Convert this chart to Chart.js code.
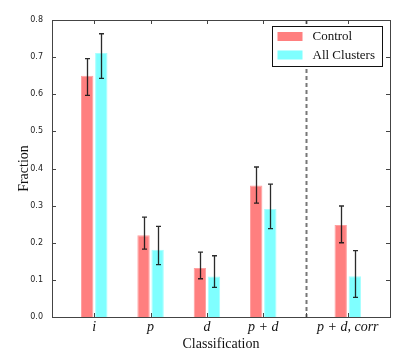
<!DOCTYPE html>
<html><head><meta charset="utf-8">
<script src="https://cdn.jsdelivr.net/npm/chart.js@4/dist/chart.umd.min.js"></script>
<style>html,body{margin:0;padding:0;background:#fff}#wrap{width:415px;height:353px}</style>
</head><body><div id="wrap"><canvas id="c" width="415" height="353"></canvas></div>
<script>
// ---- data ----
const categories = ['i', 'p', 'd', 'p + d', 'p + d, corr'];
const categorySlots = [0, 1, 2, 3, 4.5];
const dividerSlot = 3.75;
const seriesNames = ['Control', 'All Clusters'];
const control      = [0.650, 0.220, 0.132, 0.354, 0.248];
const controlLow   = [0.597, 0.183, 0.103, 0.307, 0.200];
const controlHigh  = [0.696, 0.269, 0.175, 0.404, 0.299];
const clusters     = [0.711, 0.181, 0.109, 0.291, 0.110];
const clustersLow  = [0.643, 0.141, 0.080, 0.238, 0.053];
const clustersHigh = [0.763, 0.244, 0.165, 0.358, 0.179];
const yTickValues  = [0, 0.1, 0.2, 0.3, 0.4, 0.5, 0.6, 0.7, 0.8];

const SERIF = '"Liberation Serif", "DejaVu Serif", serif';

const errorBars = {
  id: 'errorBars',
  afterDatasetsDraw(chart) {
    const {ctx} = chart; const ys = chart.scales.y;
    chart.data.datasets.forEach((ds, di) => {
      chart.getDatasetMeta(di).data.forEach((bar, i) => {
        const x = Math.round(bar.x) + 0.5;
        const yl = ys.getPixelForValue(ds.errLow[i]);
        const yh = ys.getPixelForValue(ds.errHigh[i]);
        ctx.save();
        ctx.strokeStyle = 'rgba(20,20,20,0.9)'; ctx.lineWidth = 1.3;
        ctx.beginPath();
        ctx.moveTo(x, yl); ctx.lineTo(x, yh);
        ctx.moveTo(x - 2.5, yl); ctx.lineTo(x + 2.5, yl);
        ctx.moveTo(x - 2.5, yh); ctx.lineTo(x + 2.5, yh);
        ctx.stroke(); ctx.restore();
      });
    });
  }
};

const frame = {
  id: 'frame',
  afterDraw(chart) {
    const {ctx, chartArea: a} = chart; const xs = chart.scales.x, ys = chart.scales.y;
    ctx.save();
    // divider
    const dx = Math.round(xs.getPixelForValue(dividerSlot)) + 0.5;
    ctx.strokeStyle = '#777'; ctx.lineWidth = 2; ctx.setLineDash([4, 3]);
    ctx.beginPath(); ctx.moveTo(dx, a.top); ctx.lineTo(dx, a.bottom); ctx.stroke();
    ctx.setLineDash([]);
    // frame
    ctx.strokeStyle = '#444'; ctx.lineWidth = 1;
    ctx.strokeRect(Math.round(a.left) + 0.5, Math.round(a.top) + 0.5, Math.round(a.right - a.left), Math.round(a.bottom - a.top));
    // inward ticks
    ctx.beginPath();
    yTickValues.forEach(v => {
      const y = Math.round(ys.getPixelForValue(v)) + 0.5;
      ctx.moveTo(a.left, y); ctx.lineTo(a.left + 4, y);
      ctx.moveTo(a.right, y); ctx.lineTo(a.right - 4, y);
    });
    categorySlots.concat([dividerSlot]).forEach(v => {
      const x = Math.round(xs.getPixelForValue(v)) + 0.5;
      ctx.moveTo(x, a.top); ctx.lineTo(x, a.top + 4);
      ctx.moveTo(x, a.bottom); ctx.lineTo(x, a.bottom - 4);
    });
    ctx.stroke();
    // legend
    const bx = Math.round(a.right) - 117.5, by = Math.round(a.top) + 6.5, bw = 110, bh = 40;
    ctx.fillStyle = '#fff'; ctx.fillRect(bx, by, bw, bh);
    ctx.strokeStyle = '#111'; ctx.strokeRect(bx, by, bw, bh);
    ctx.font = '13px ' + SERIF; ctx.textBaseline = 'middle'; ctx.textAlign = 'left';
    chart.data.datasets.forEach((ds, i) => {
      const cy = by + 10 + i * 18.5;
      ctx.fillStyle = ds.backgroundColor;
      ctx.fillRect(bx + 5, cy - 4.5, 25, 9);
      ctx.fillStyle = '#111';
      ctx.fillText(ds.label, bx + 40, cy + 0.5);
    });
    ctx.restore();
  }
};

new Chart(document.getElementById('c'), {
  type: 'bar',
  data: {
    datasets: [
      { label: seriesNames[0], data: categorySlots.map((x, i) => ({x, y: control[i]})),
        errLow: controlLow, errHigh: controlHigh,
        backgroundColor: '#ff7f7f', borderColor: '#ffa0a0', borderWidth: 1 },
      { label: seriesNames[1], data: categorySlots.map((x, i) => ({x, y: clusters[i]})),
        errLow: clustersLow, errHigh: clustersHigh,
        backgroundColor: '#7fffff', borderColor: '#a8ffff', borderWidth: 1 }
    ]
  },
  options: {
    responsive: false, animation: false,
    categoryPercentage: 0.5, barPercentage: 0.88,
    layout: { padding: { top: 20, right: 25, left: 0, bottom: 0 } },
    plugins: { legend: { display: false }, tooltip: { enabled: false } },
    scales: {
      x: {
        type: 'linear', min: -0.75, max: 5.25, offset: false,
        afterBuildTicks: s => { s.ticks = categorySlots.map(v => ({value: v})); },
        afterFit: s => { s.height = 36; },
        grid: { display: false, drawTicks: false, offset: false },
        border: { display: false },
        ticks: { autoSkip: false, maxRotation: 0, padding: 2, color: '#111',
          font: { family: SERIF, size: 14, style: 'italic' },
          callback: (v, i) => categories[i] },
        title: { display: true, text: 'Classification', color: '#111',
          font: { family: SERIF, size: 14 }, padding: { top: 0, bottom: 0 } }
      },
      y: {
        min: 0, max: 0.8,
        afterBuildTicks: s => { s.ticks = yTickValues.map(v => ({value: v})); },
        afterFit: s => { s.width = 52; },
        grid: { display: false, drawTicks: false },
        border: { display: false },
        ticks: { padding: 9, color: '#222', font: { family: '"DejaVu Sans", sans-serif', size: 8 },
          callback: v => Number(v).toFixed(1) },
        title: { display: true, text: 'Fraction', color: '#111',
          font: { family: SERIF, size: 14 }, padding: { top: 16, bottom: 0 } }
      }
    }
  },
  plugins: [errorBars, frame]
});
</script></body></html>
